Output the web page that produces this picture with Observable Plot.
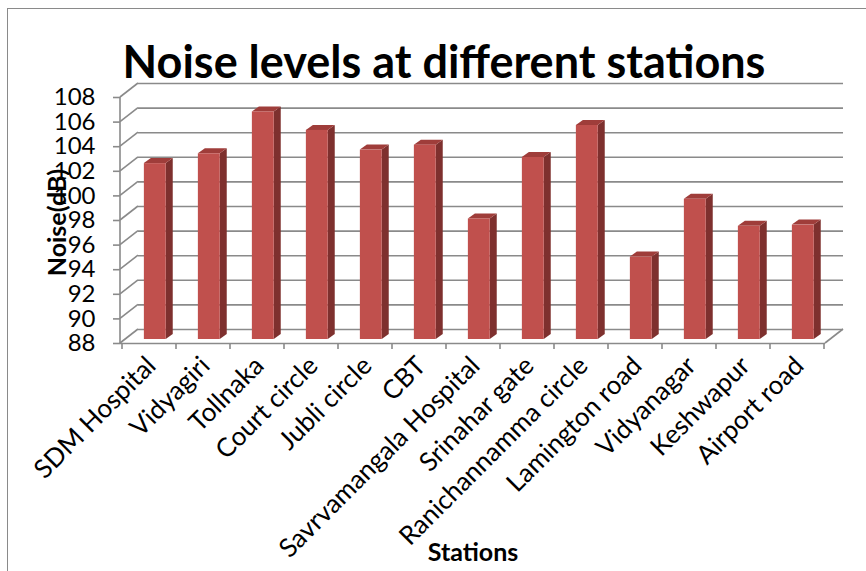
<!DOCTYPE html>
<html>
<head>
<meta charset="utf-8">
<script src="https://cdn.jsdelivr.net/npm/d3@7"></script>
<script src="https://cdn.jsdelivr.net/npm/@observablehq/plot@0.6"></script>
<style>
  html, body { margin: 0; padding: 0; background: #fff; }
  #wrap { position: relative; width: 866px; height: 571px; overflow: hidden; }
  #border { position: absolute; left: 7px; top: 8px; right: -10px; bottom: -10px;
            border-left: 1.5px solid #8a8a8a; border-top: 1.5px solid #8a8a8a; pointer-events: none; }
  #wrap svg { position: absolute; left: 0; top: 0; }
</style>
</head>
<body>
<div id="wrap"><div id="border"></div></div>
<script>
// ---- data ----
const stations = ["SDM Hospital", "Vidyagiri", "Tollnaka", "Court circle", "Jubli circle", "CBT",
  "Savrvamangala Hospital", "Srinahar gate", "Ranichannamma circle", "Lamington road",
  "Vidyanagar", "Keshwapur", "Airport road"];
const noise = [102.3, 103.1, 106.5, 105.0, 103.4, 103.8, 97.8, 102.8, 105.4, 94.7, 99.4, 97.2, 97.3];
const yTicks = [88, 90, 92, 94, 96, 98, 100, 102, 104, 106, 108];
const titleText = "Noise levels at different stations";
const yLabel = "Noise(dB)";
const xLabel = "Stations";

const data = stations.map((s, i) => ({station: s, noise: noise[i]}));

// ---- style ----
const gridColor = "#8a8a8a";
const depthX = 18, depthY = -14;        // back-wall offset (pseudo 3D)
const frontFill = "#C0504D", sideFill = "#7E302E", topFill = "#9F3D3A";

function walls(index, scales, values, dims) {
  const {x, y} = scales;
  const x0 = dims.marginLeft, x1 = dims.width - dims.marginRight;
  const g = d3.create("svg:g").attr("fill", "none").attr("stroke", gridColor).attr("stroke-width", 1.6);
  g.selectAll(null).data(yTicks).join("line")
    .attr("x1", x0).attr("y1", d => y(d))
    .attr("x2", x0 + depthX).attr("y2", d => y(d) + depthY);
  g.append("line").attr("x1", x0).attr("x2", x0)
    .attr("y1", y(d3.max(yTicks))).attr("y2", y(d3.min(yTicks)));
  g.append("line").attr("x1", x1).attr("y1", y(d3.min(yTicks)))
    .attr("x2", x1 + depthX).attr("y2", y(d3.min(yTicks)) + depthY);
  const bounds = stations.map(s => x(s)).concat([x(stations[stations.length - 1]) + x.bandwidth()]);
  g.selectAll(null).data(bounds).join("line")
    .attr("x1", d => d).attr("x2", d => d)
    .attr("y1", y(d3.min(yTicks))).attr("y2", y(d3.min(yTicks)) + 6);
  return g.node();
}

function bars3d(index, scales, values, dims) {
  const {x, y} = scales;
  const bw = x.bandwidth();
  const g = d3.create("svg:g");
  const sdx = 7, sdy = -5, lift = -4;
  for (const d of data) {
    const l = x(d.station) + bw * 0.405, r = l + bw * 0.405;
    const t = y(d.noise) + lift, b = y(d3.min(yTicks)) + lift;
    g.append("polygon").attr("fill", sideFill)
      .attr("points", `${r},${t} ${r + sdx},${t + sdy} ${r + sdx},${b + sdy} ${r},${b}`);
    g.append("polygon").attr("fill", topFill)
      .attr("points", `${l},${t} ${l + sdx},${t + sdy} ${r + sdx},${t + sdy} ${r},${t}`);
    g.append("rect").attr("fill", frontFill)
      .attr("x", l).attr("y", t).attr("width", r - l).attr("height", b - t);
  }
  return g.node();
}

const chart = Plot.plot({
  width: 866,
  height: 571,
  marginLeft: 120,
  marginRight: 41,
  marginTop: 97,
  marginBottom: 228,
  style: {fontFamily: "Lato", fontSize: "25px", background: "transparent"},
  x: {type: "band", domain: stations, padding: 0, axis: null},
  y: {domain: [88, 108], axis: null},
  marks: [
    Plot.ruleY(yTicks, {dx: depthX, dy: depthY, stroke: gridColor, strokeWidth: 1.6}),
    walls,
    Plot.ruleY([88], {stroke: gridColor, strokeWidth: 1.6}),
    bars3d,
    Plot.axisY({ticks: yTicks, tickSize: 7, tickPadding: 18, fontSize: 24, stroke: gridColor, strokeWidth: 1.6, fill: "black", label: null, tickFormat: d => d}),
    Plot.axisX({tickRotate: -45, tickSize: 0, tickPadding: 18, dx: 2, fontSize: 26, fill: "black", label: null}),
    Plot.text([titleText], {frameAnchor: "top", dx: -29, dy: -34, lineAnchor: "middle", fontSize: 45, fontWeight: "bold", fill: "black"}),
    Plot.text([yLabel], {frameAnchor: "left", rotate: -90, textAnchor: "middle", dx: -63, dy: 2, lineAnchor: "middle", fontSize: 25, fontWeight: "bold", fill: "black"}),
    Plot.text([xLabel], {frameAnchor: "bottom", dy: 209, lineAnchor: "middle", fontSize: 25, fontWeight: "bold", fill: "black"})
  ]
});
document.getElementById("wrap").prepend(chart);
</script>
</body>
</html>
